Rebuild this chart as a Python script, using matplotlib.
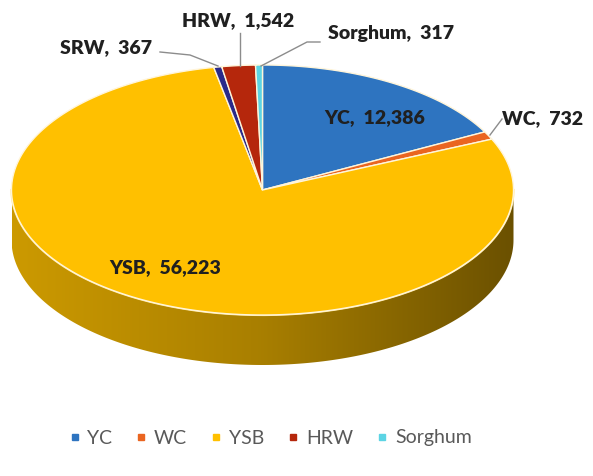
import numpy as np
import matplotlib.pyplot as plt
from matplotlib.patches import Polygon
from matplotlib.lines import Line2D
from matplotlib.colors import LinearSegmentedColormap, to_rgb

# data, in clockwise order starting at 12 o'clock
labels = ['YC', 'WC', 'YSB', 'SRW', 'HRW', 'Sorghum']
values = [12386, 732, 56223, 367, 1542, 317]
colors = ['#2E74C0', '#EA6520', '#FFC000', '#2A2A8A', '#B5270C', '#5CD4E4']
legend_labels = ['YC', 'WC', 'YSB', 'HRW', 'Sorghum']

# label placement (pixel coords) and leader lines
label_pos = {'YC': (375, 118), 'WC': (543, 119), 'YSB': (165, 268),
             'SRW': (106, 48), 'HRW': (238, 21), 'Sorghum': (391, 34)}
leaders = {'WC': [(502, 119), (490, 135)],
           'SRW': [(160, 52), (190, 55), (218, 66)],
           'HRW': [(240, 33), (240, 66)],
           'Sorghum': [(320, 42), (307, 42), (261, 66)]}

plt.rcParams['font.family'] = ['Lato', 'DejaVu Sans']

fig = plt.figure(figsize=(5.93, 4.76), dpi=100)
ax = fig.add_axes([0, 0, 1, 1])
ax.set_xlim(0, 593)
ax.set_ylim(476, 0)
ax.axis('off')

cx, cy, rx, ry, depth = 262.5, 190, 251, 125, 50

frac = np.array(values) / sum(values)
bounds = 90 - 360 * np.concatenate([[0], np.cumsum(frac)])


def ellipse_pts(t0, t1, dy=0, n=200):
    t = np.radians(np.linspace(t0, t1, n))
    return np.column_stack([cx + rx * np.cos(t), cy - ry * np.sin(t) + dy])


# side walls (front half only), with horizontal shading
for i in range(len(values)):
    hi, lo = bounds[i], bounds[i + 1]
    for k in range(-2, 2):
        a, b = max(lo, -180 + 360 * k), min(hi, 360 * k)
        if b <= a:
            continue
        top = ellipse_pts(b, a)
        bot = ellipse_pts(a, b, dy=depth)
        poly = Polygon(np.vstack([top, bot]), closed=True, facecolor='none',
                       edgecolor='none')
        ax.add_patch(poly)
        base = np.array(to_rgb(colors[i]))
        cmap = LinearSegmentedColormap.from_list(
            's', [base * 0.80, base * 0.66, base * 0.42])
        grad = np.linspace(0, 1, 256).reshape(1, -1)
        im = ax.imshow(grad, cmap=cmap, aspect='auto',
                       extent=(cx - rx, cx + rx, cy + depth + ry, cy - ry),
                       zorder=1)
        im.set_clip_path(poly)

# rim highlight on the front edge of the top face
rim = ellipse_pts(-180, 0)
ax.plot(rim[:, 0], rim[:, 1], color='#FFE699', lw=1.6, zorder=2)

# top faces
for i in range(len(values)):
    pts = np.vstack([[cx, cy], ellipse_pts(bounds[i], bounds[i + 1])])
    ax.add_patch(Polygon(pts, closed=True, facecolor=colors[i],
                         edgecolor='#FFF5DA', lw=1.0, zorder=3))

# leader lines
for name, pts in leaders.items():
    pts = np.array(pts)
    ax.plot(pts[:, 0], pts[:, 1], color='#8C8C8C', lw=1.0, zorder=4)

# data labels
for name, v in zip(labels, values):
    x, y = label_pos[name]
    ax.text(x, y, f'{name},  {v:,}', ha='center', va='center',
            fontsize=14, fontweight='heavy', color='#202020', zorder=5)

# legend
handles = [Line2D([], [], marker='s', ls='', markersize=5,
                  color=colors[labels.index(n)]) for n in legend_labels]
leg = ax.legend(handles, legend_labels, loc='center',
                bbox_to_anchor=(0.455, 1 - 438 / 476), bbox_transform=fig.transFigure,
                ncol=5, frameon=False, fontsize=14, handletextpad=0.3,
                columnspacing=1.15, handlelength=0.7)
for t in leg.get_texts():
    t.set_color('#595959')

fig.savefig('out.png', dpi=100)
